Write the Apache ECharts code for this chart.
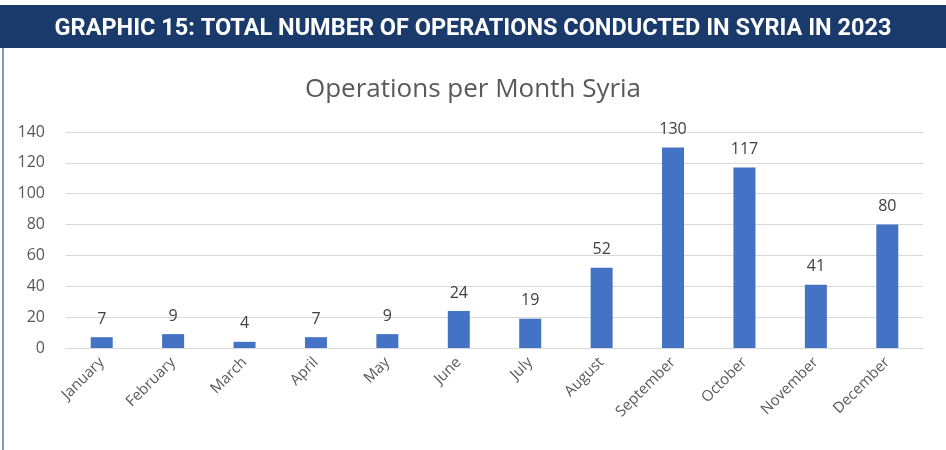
<!DOCTYPE html>
<html>
<head>
<meta charset="utf-8">
<script src="https://cdn.jsdelivr.net/npm/echarts@6/dist/echarts.min.js"></script>
<style>
  html, body { margin: 0; padding: 0; background: #fff; }
  #chart { width: 946px; height: 450px; }
</style>
</head>
<body>
<div id="chart"></div>
<script>
// data
const months = ['January', 'February', 'March', 'April', 'May', 'June', 'July',
  'August', 'September', 'October', 'November', 'December']
const operations = [7, 9, 4, 7, 9, 24, 19, 52, 130, 117, 41, 80]
const yTicks = [0, 20, 40, 60, 80, 100, 120, 140]

const chart = echarts.init(document.getElementById('chart'))

chart.setOption({
  animation: false,
  title: [
    {
      text: 'GRAPHIC 15: TOTAL NUMBER OF OPERATIONS CONDUCTED IN SYRIA IN 2023',
      left: 'center',
      top: 12,
      textStyle: {
        color: '#ffffff',
        fontFamily: 'Roboto, sans-serif',
        fontWeight: 'bold',
        fontSize: 23.5
      }
    },
    {
      text: 'Operations per Month Syria',
      left: 'center',
      top: 72,
      textStyle: {
        color: '#595959',
        fontFamily: 'Open Sans, sans-serif',
        fontWeight: 'normal',
        fontSize: 26
      }
    }
  ],
  graphic: [
    {
      type: 'rect',
      z: -1,
      shape: { x: 0, y: 5, width: 946, height: 43 },
      style: { fill: '#1a3a6b' }
    },
    {
      type: 'line',
      shape: { x1: 3, y1: 48, x2: 3, y2: 450 },
      style: { stroke: '#8797b8', lineWidth: 2 }
    }
  ],
  grid: { left: 66, right: 23, top: 132, bottom: 102 },
  xAxis: {
    type: 'category',
    data: months,
    axisLine: { lineStyle: { color: '#d9d9d9', width: 1 } },
    axisTick: { show: false },
    axisLabel: {
      rotate: 45,
      interval: 0,
      margin: 12,
      color: '#595959',
      fontFamily: 'Open Sans, sans-serif',
      fontSize: 15
    }
  },
  yAxis: {
    type: 'value',
    min: yTicks[0],
    max: yTicks[yTicks.length - 1],
    interval: 20,
    axisLine: { show: false },
    axisTick: { show: false },
    splitLine: { lineStyle: { color: '#d9d9d9' } },
    axisLabel: {
      margin: 21,
      color: '#595959',
      fontFamily: 'Open Sans, sans-serif',
      fontSize: 16
    }
  },
  series: [{
    type: 'bar',
    data: operations,
    barWidth: 22,
    itemStyle: { color: '#4472c4' },
    label: {
      show: true,
      position: 'top',
      distance: 10,
      color: '#404040',
      fontFamily: 'Open Sans, sans-serif',
      fontSize: 16
    }
  }]
})
</script>
</body>
</html>
